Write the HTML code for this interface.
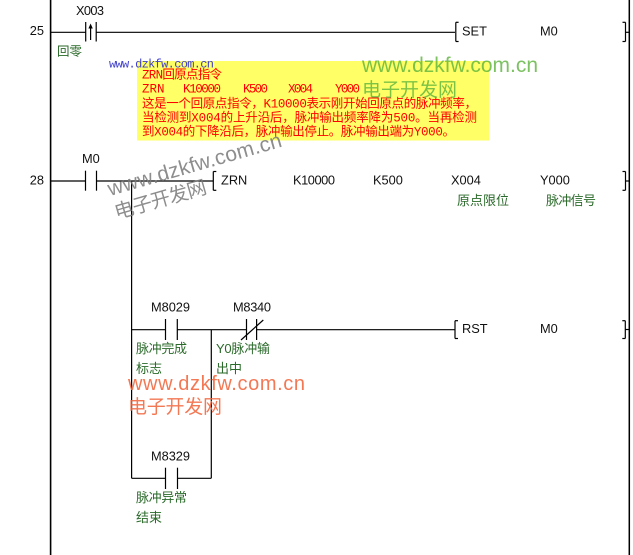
<!DOCTYPE html>
<html><head><meta charset="utf-8"><style>
html,body{margin:0;padding:0;background:#fff;}
svg{display:block;}
.t{font-family:"Liberation Sans","Noto Sans CJK SC",sans-serif;font-size:12.8px;fill:#111;}
.g{font-family:"Liberation Sans","Noto Sans CJK SC",sans-serif;font-size:13px;fill:#2a6a2a;}
.r{font-family:"Liberation Mono","Noto Sans CJK SC",monospace;font-size:12.5px;fill:#ff0000;}
.rc{font-family:"Liberation Mono","Noto Sans CJK SC",monospace;font-size:12.5px;fill:#ff0000;}
</style></head><body>
<svg width="633" height="555" viewBox="0 0 633 555" xmlns="http://www.w3.org/2000/svg">
<rect width="633" height="555" fill="#fff"/>
<!-- yellow comment box -->
<rect x="137" y="61" width="352" height="79.5" fill="#ffff66"/>

<!-- rails -->
<line x1="50.6" y1="0" x2="50.6" y2="555" stroke="#000" stroke-width="1.6"/>
<line x1="629.3" y1="0" x2="629.3" y2="555" stroke="#000" stroke-width="1.5"/>

<g stroke="#000" stroke-width="1.2" fill="none">
<!-- rung 25 -->
<line x1="50" y1="32.3" x2="85.7" y2="32.3"/>
<line x1="96.2" y1="32.3" x2="455" y2="32.3"/>
<line x1="85.7" y1="22" x2="85.7" y2="41.5"/>
<line x1="96.2" y1="22" x2="96.2" y2="41.5"/>
<line x1="90.6" y1="27" x2="90.6" y2="40"/>
<polyline points="455.8,22.3 455.8,41.5"/>
<line x1="455.8" y1="22.3" x2="458.6" y2="22.3"/>
<line x1="455.8" y1="41.5" x2="458.6" y2="41.5"/>
<polyline points="625.5,22.3 625.5,41.5"/>
<line x1="622.5" y1="22.3" x2="625.5" y2="22.3"/>
<line x1="622.5" y1="41.5" x2="625.5" y2="41.5"/>
<line x1="625.5" y1="32.3" x2="629" y2="32.3"/>

<!-- rung 28 -->
<line x1="50" y1="181" x2="85.5" y2="181"/>
<line x1="96.5" y1="181" x2="213" y2="181"/>
<line x1="85.5" y1="170.7" x2="85.5" y2="190.7"/>
<line x1="96.5" y1="170.7" x2="96.5" y2="190.7"/>
<line x1="213.3" y1="171.5" x2="213.3" y2="190.3"/>
<line x1="213.3" y1="171.5" x2="216.3" y2="171.5"/>
<line x1="213.3" y1="190.3" x2="216.3" y2="190.3"/>
<line x1="625.5" y1="171.5" x2="625.5" y2="190.3"/>
<line x1="622.5" y1="171.5" x2="625.5" y2="171.5"/>
<line x1="622.5" y1="190.3" x2="625.5" y2="190.3"/>
<line x1="625.5" y1="181" x2="629" y2="181"/>

<!-- branch verticals -->
<line x1="131.6" y1="181" x2="131.6" y2="478.3"/>
<line x1="211.3" y1="329.7" x2="211.3" y2="478.3"/>

<!-- rung RST -->
<line x1="131.6" y1="329.7" x2="165.5" y2="329.7"/>
<line x1="177.3" y1="329.7" x2="246.5" y2="329.7"/>
<line x1="256.6" y1="329.7" x2="455" y2="329.7"/>
<line x1="165.5" y1="319" x2="165.5" y2="340"/>
<line x1="177.3" y1="319" x2="177.3" y2="340"/>
<line x1="246.5" y1="319" x2="246.5" y2="340"/>
<line x1="256.6" y1="319" x2="256.6" y2="340"/>
<line x1="241" y1="340" x2="263.3" y2="320"/>
<line x1="455" y1="320.7" x2="455" y2="338.5"/>
<line x1="455" y1="320.7" x2="458" y2="320.7"/>
<line x1="455" y1="338.5" x2="458" y2="338.5"/>
<line x1="625.3" y1="320.7" x2="625.3" y2="338.5"/>
<line x1="622.3" y1="320.7" x2="625.3" y2="320.7"/>
<line x1="622.3" y1="338.5" x2="625.3" y2="338.5"/>
<line x1="625.3" y1="329.5" x2="629" y2="329.5"/>

<!-- bottom rung -->
<line x1="131.6" y1="478.3" x2="165.5" y2="478.3"/>
<line x1="177.5" y1="478.3" x2="211.3" y2="478.3"/>
<line x1="165.5" y1="467.7" x2="165.5" y2="489"/>
<line x1="177.5" y1="467.7" x2="177.5" y2="489"/>
</g>
<polygon points="90.6,23.5 88.4,28.5 92.8,28.5" fill="#000"/>

<!-- black text -->
<text class="t" x="44" y="35" text-anchor="end">25</text>
<text class="t" x="76" y="15" textLength="28">X003</text>
<text class="t" x="462" y="35.5">SET</text>
<text class="t" x="540" y="35.5">M0</text>

<text class="t" x="44" y="184.5" text-anchor="end">28</text>
<text class="t" x="82" y="163">M0</text>
<text class="t" x="221" y="184.5">ZRN</text>
<text class="t" x="293" y="184.5" textLength="42">K10000</text>
<text class="t" x="373" y="184.5">K500</text>
<text class="t" x="451" y="184.5">X004</text>
<text class="t" x="540" y="184.5">Y000</text>

<text class="t" x="151" y="311.5" textLength="39">M8029</text>
<text class="t" x="233" y="311.5" textLength="38">M8340</text>
<text class="t" x="462" y="333">RST</text>
<text class="t" x="540" y="333">M0</text>
<text class="t" x="151" y="460.5" textLength="39">M8329</text>

<!-- green labels -->
<text class="g" x="57" y="55.5" style="font-size:12.5px">回零</text>
<text class="g" x="457" y="205" textLength="52">原点限位</text>
<text class="g" x="546" y="205" textLength="50">脉冲信号</text>
<text class="g" x="136" y="353" textLength="51">脉冲完成</text>
<text class="g" x="136" y="373">标志</text>
<text class="g" x="216" y="353" textLength="54">Y0脉冲输</text>
<text class="g" x="216" y="373">出中</text>
<text class="g" x="136" y="502" textLength="51">脉冲异常</text>
<text class="g" x="136" y="522">结束</text>

<!-- red comment text -->
<text class="rc" x="142" y="78.5" textLength="80">ZRN回原点指令</text>
<text class="r" x="142" y="92.5">ZRN</text>
<text class="r" x="183" y="92.5" textLength="38">K10000</text>
<text class="r" x="243" y="92.5" textLength="25">K500</text>
<text class="r" x="288" y="92.5" textLength="25">X004</text>
<text class="r" x="335" y="92.5" textLength="25">Y000</text>
<text class="rc" x="142" y="107.5" textLength="335">这是一个回原点指令，K10000表示刚开始回原点的脉冲频率，</text>
<text class="rc" x="142" y="121.5" textLength="335">当检测到X004的上升沿后，脉冲输出频率降为500。当再检测</text>
<text class="rc" x="142" y="135.5" textLength="313">到X004的下降沿后，脉冲输出停止。脉冲输出端为Y000。</text>

<!-- blue url -->
<text x="109" y="67.5" textLength="105" style="font-family:'Liberation Mono',monospace;font-size:12px;fill:#4040cc">www.dzkfw.com.cn</text>

<!-- green watermark -->
<g style="fill:#5cb33c;opacity:0.8;font-family:'Liberation Sans','Noto Sans CJK SC',sans-serif">
<text x="362" y="72" font-size="21" textLength="176">www.dzkfw.com.cn</text>
<text x="362" y="96" font-size="19" textLength="95">电子开发网</text>
</g>

<!-- gray rotated watermark -->
<g transform="translate(110,196) rotate(-16)" style="fill:#7a7a7a;opacity:0.85;font-family:'Liberation Sans','Noto Sans CJK SC',sans-serif">
<text x="0" y="0" font-size="21" textLength="180">www.dzkfw.com.cn</text>
<text x="0" y="24" font-size="19.5" textLength="95">电子开发网</text>
</g>

<!-- orange watermark -->
<g style="fill:#f26a42;opacity:0.9;font-family:'Liberation Sans','Noto Sans CJK SC',sans-serif">
<text x="128" y="390" font-size="20" textLength="177">www.dzkfw.com.cn</text>
<text x="128" y="413" font-size="19" textLength="94">电子开发网</text>
</g>
</svg>
</body></html>
